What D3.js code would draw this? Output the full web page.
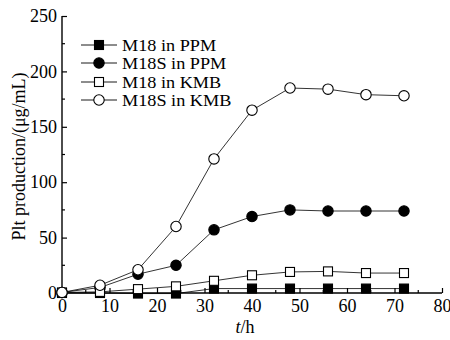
<!DOCTYPE html>
<html>
<head>
<meta charset="utf-8">
<script src="https://cdn.jsdelivr.net/npm/d3@7"></script>
<style>
  body { margin: 0; background: #fff; }
  svg { display: block; }
  text { font-family: "Liberation Serif", "Times New Roman", serif; fill: #000; }
</style>
</head>
<body>
<div id="chart"></div>
<script>
// sampling times (h)
var hours = [0, 8, 16, 24, 32, 40, 48, 56, 64, 72];

// Plt production, ug/mL
var m18PPM  = [0, 0, -0.5, -0.5, 4, 4, 4, 4, 4, 4];
var m18sPPM = [0.5, 5, 17, 25, 57, 69, 75, 74, 74, 74];
var m18KMB  = [0.5, 1, 3.5, 6, 11, 16, 19, 19.5, 18, 18];
var m18sKMB = [0.5, 7, 21, 60, 121, 165, 185, 184, 179, 178];

var seriesNames = ["M18 in PPM", "M18S in PPM", "M18 in KMB", "M18S in KMB"];
var seriesShapes = ["square", "circle", "square", "circle"];
var seriesFilled = [true, true, false, false];
var seriesValues = [m18PPM, m18sPPM, m18KMB, m18sKMB];

var xTicks = [0, 10, 20, 30, 40, 50, 60, 70, 80];
var yTicks = [0, 50, 100, 150, 200, 250];

var width = 450, height = 340;
var svg = d3.select("#chart").append("svg")
    .attr("width", width)
    .attr("height", height);

var x = d3.scaleLinear().domain([0, 80]).range([62, 442]);
var y = d3.scaleLinear().domain([0, 250]).range([293, 16]);

//axes: ticks point inward, minor ticks halfway
var xAxis = svg.append("g")
    .attr("transform", "translate(0," + y(0) + ")")
    .call(d3.axisBottom(x).tickValues(xTicks).tickSize(-5).tickPadding(10).tickFormat(d3.format("d")));
xAxis.select(".domain").attr("d", "M" + x(0) + ",0H" + x(80)).attr("stroke-width", 1.4);
xAxis.selectAll(".tick text").attr("font-size", "18px").attr("dy", "0.78em").attr("y", 5);
xAxis.selectAll(".tick line").attr("stroke-width", 1.2);
xAxis.selectAll(".minor").data(d3.range(5, 80, 10)).enter().append("line")
    .attr("x1", function (d) { return x(d); })
    .attr("x2", function (d) { return x(d); })
    .attr("y1", 0).attr("y2", -3)
    .attr("stroke", "#000").attr("stroke-width", 1.2);

var yAxis = svg.append("g")
    .attr("transform", "translate(" + x(0) + ",0)")
    .call(d3.axisLeft(y).tickValues(yTicks).tickSize(-5).tickPadding(5).tickFormat(d3.format("d")));
yAxis.select(".domain").attr("d", "M0," + y(0) + "V" + y(250)).attr("stroke-width", 1.4);
yAxis.selectAll(".tick text").attr("font-size", "18px").attr("x", -5);
yAxis.selectAll(".tick line").attr("stroke-width", 1.2);
yAxis.selectAll(".minor").data(d3.range(25, 250, 50)).enter().append("line")
    .attr("y1", function (d) { return y(d); })
    .attr("y2", function (d) { return y(d); })
    .attr("x1", 0).attr("x2", 3)
    .attr("stroke", "#000").attr("stroke-width", 1.2);

svg.selectAll(".domain").attr("stroke", "#000");
svg.selectAll(".tick line").attr("stroke", "#000");

// axis titles
svg.append("text")
    .attr("transform", "translate(19," + ((y(0) + y(250)) / 2 + 2) + ") rotate(-90)")
    .attr("text-anchor", "middle")
    .attr("dy", "0.35em")
    .attr("font-size", "18px")
    .text("Plt production/(μg/mL)");

var xTitle = svg.append("text")
    .attr("x", 245)
    .attr("y", 333)
    .attr("text-anchor", "middle")
    .attr("font-size", "18px");
xTitle.append("tspan").attr("font-style", "italic").text("t");
xTitle.append("tspan").text("/h");

function drawMarker(g, shape, filled, cx, cy) {
    if (shape === "circle") {
        g.append("circle")
            .attr("cx", cx).attr("cy", cy).attr("r", 5.2)
            .attr("fill", filled ? "#000" : "#fff")
            .attr("stroke", "#000").attr("stroke-width", 1.1);
    } else {
        g.append("rect")
            .attr("x", cx - 4.5).attr("y", cy - 4.5)
            .attr("width", 9).attr("height", 9)
            .attr("fill", filled ? "#000" : "#fff")
            .attr("stroke", "#000").attr("stroke-width", 1.1);
    }
}

var line = d3.line()
    .x(function (d) { return x(d[0]); })
    .y(function (d) { return y(d[1]); });

seriesValues.forEach(function (vals, i) {
    var pts = hours.map(function (h, k) { return [h, vals[k]]; });
    var g = svg.append("g").attr("class", "series");
    g.append("path")
        .attr("d", line(pts))
        .attr("fill", "none")
        .attr("stroke", "#000")
        .attr("stroke-width", 0.8);
    pts.forEach(function (p) {
        drawMarker(g, seriesShapes[i], seriesFilled[i], x(p[0]), y(p[1]));
    });
});

// legend (text is a bit wide in the original, so stretch it sideways)
var legendY = [45, 63, 82, 100];
var legend = svg.append("g").attr("class", "legend");
seriesNames.forEach(function (name, i) {
    var ly = legendY[i];
    legend.append("line")
        .attr("x1", 81).attr("x2", 117)
        .attr("y1", ly).attr("y2", ly)
        .attr("stroke", "#000").attr("stroke-width", 0.9);
    drawMarker(legend, seriesShapes[i], seriesFilled[i], 99, ly);
    legend.append("text")
        .attr("transform", "translate(122," + ly + ") scale(1.14,1.08)")
        .attr("dy", "0.34em")
        .attr("font-size", "16px")
        .text(name);
});
</script>
</body>
</html>
